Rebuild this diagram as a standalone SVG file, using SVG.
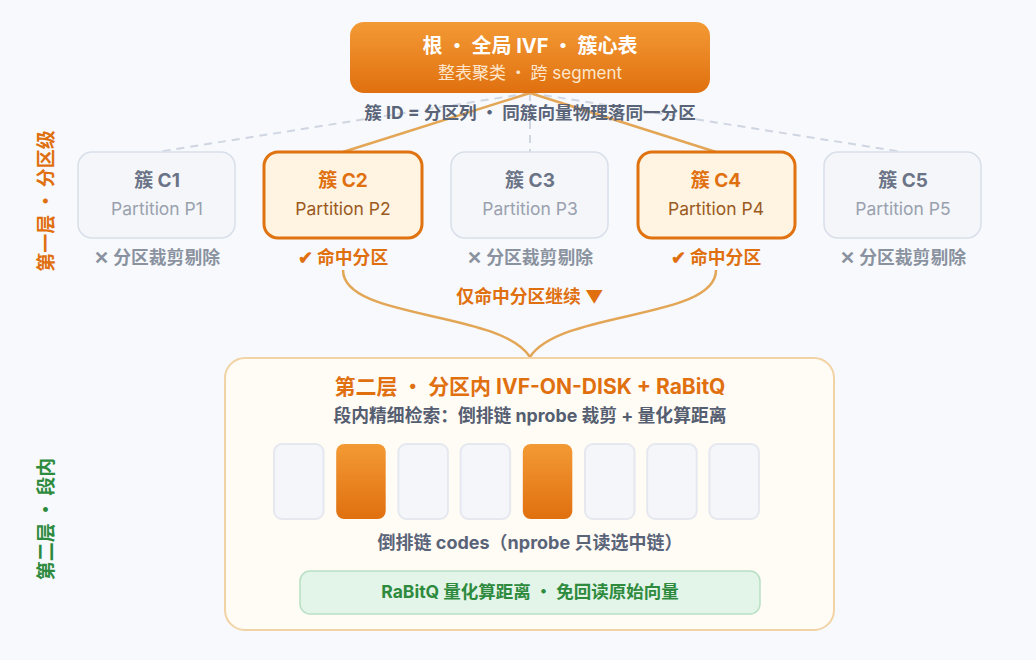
<svg xmlns="http://www.w3.org/2000/svg" width="1036" height="660" viewBox="0 0 1036 660">
<defs>
<linearGradient id="gOrange" x1="0" y1="0" x2="0" y2="1">
<stop offset="0" stop-color="#F39A35"/>
<stop offset="1" stop-color="#E0700F"/>
</linearGradient>
<style>
text{font-family:Inter,"Noto Sans CJK SC",sans-serif;text-anchor:middle}
.d{font-family:"Noto Sans CJK SC",sans-serif}
.b{font-weight:700}
.gbox{fill:#f4f6fa;stroke:#d9dfe9;stroke-width:1.5}
.obox{fill:#fff3e2;stroke:#e0720f;stroke-width:3}
.gt{fill:#6b7386;font-size:19px;font-weight:700}
.gs{fill:#9aa1ae;font-size:17.5px}
.ot{fill:#e0700f;font-size:19px;font-weight:700}
.os{fill:#9a5a1e;font-size:17.5px}
.gl{fill:#8a92a0;font-size:17.8px;font-weight:700}
.ol{fill:#e0700f;font-size:17.8px;font-weight:700}
.dash{stroke:#cfd6e2;stroke-width:2;stroke-dasharray:8 6;fill:none}
.sol{stroke:#e3a656;stroke-width:2.5;fill:none}
.chain{fill:#f4f6fa;stroke:#e5e8ef;stroke-width:2}
.chainOn{fill:url(#gOrange)}
</style>
</defs>
<rect width="1036" height="660" fill="#f7f9fc"/>

<g id="connectors">
<line class="dash" x1="530" y1="93" x2="157" y2="152"/>
<line class="dash" x1="530" y1="93" x2="530" y2="152"/>
<line class="dash" x1="530" y1="93" x2="903" y2="152"/>
<line class="sol" x1="530" y1="93" x2="343" y2="152"/>
<line class="sol" x1="530" y1="93" x2="716" y2="152"/>
<path class="sol" d="M343,270 C343,320 500,310 530,357"/>
<path class="sol" d="M716,270 C716,320 560,310 530,357"/>
</g>

<g id="root">
<rect x="350" y="22" width="360" height="71" rx="14" fill="url(#gOrange)"/>
<text x="530" y="53" class="b" font-size="20" fill="#ffffff">根<tspan class="d"> · </tspan>全局 IVF<tspan class="d"> · </tspan>簇心表</text>
<text x="530" y="79" font-size="17" fill="#fde6cc">整表聚类<tspan class="d"> · </tspan>跨 segment</text>
</g>

<g id="edge-label">
<text x="530" y="119" class="b" font-size="17.6" fill="#5a6478">簇 ID = 分区列<tspan class="d"> · </tspan>同簇向量物理落同一分区</text>
</g>

<g id="layer1-label">
<text transform="translate(53,201) rotate(-90)" class="b" font-size="19" fill="#e0700f">第一层<tspan class="d"> · </tspan>分区级</text>
</g>
<g id="layer2-label">
<text transform="translate(53,519) rotate(-90)" class="b" font-size="19" fill="#2e8b3e">第二层<tspan class="d"> · </tspan>段内</text>
</g>

<g id="c1">
<rect class="gbox" x="78" y="152" width="157" height="86" rx="14"/>
<text class="gt" x="157" y="187">簇 C1</text>
<text class="gs" x="157" y="215">Partition P1</text>
<text class="gl" x="157" y="264">✕ 分区裁剪剔除</text>
</g>
<g id="c2">
<rect class="obox" x="264" y="152" width="158" height="86" rx="14"/>
<text class="ot" x="343" y="187">簇 C2</text>
<text class="os" x="343" y="215">Partition P2</text>
<text class="ol" x="343" y="264">✔ 命中分区</text>
</g>
<g id="c3">
<rect class="gbox" x="451" y="152" width="157" height="86" rx="14"/>
<text class="gt" x="530" y="187">簇 C3</text>
<text class="gs" x="530" y="215">Partition P3</text>
<text class="gl" x="530" y="264">✕ 分区裁剪剔除</text>
</g>
<g id="c4">
<rect class="obox" x="638" y="152" width="157" height="86" rx="14"/>
<text class="ot" x="716" y="187">簇 C4</text>
<text class="os" x="716" y="215">Partition P4</text>
<text class="ol" x="716" y="264">✔ 命中分区</text>
</g>
<g id="c5">
<rect class="gbox" x="824" y="152" width="157" height="86" rx="14"/>
<text class="gt" x="903" y="187">簇 C5</text>
<text class="gs" x="903" y="215">Partition P5</text>
<text class="gl" x="903" y="264">✕ 分区裁剪剔除</text>
</g>

<g id="continue-label">
<text class="ol" x="530" y="303" font-size="18">仅命中分区继续 ▼</text>
</g>

<g id="layer2">
<rect x="225" y="358" width="609" height="272" rx="20" fill="#fffbf5" stroke="#f2d3a5" stroke-width="2"/>
<text x="530" y="394" class="b" font-size="21" fill="#e0700f">第二层<tspan class="d"> · </tspan>分区内 IVF-ON-DISK + RaBitQ</text>
<text x="530" y="422" class="b" font-size="17.8" fill="#555e70">段内精细检索：倒排链 nprobe 裁剪 + 量化算距离</text>
<g id="chains">
<rect class="chain" x="274" y="444" width="49.5" height="75" rx="8"/>
<rect class="chainOn" x="336.2" y="444" width="49.5" height="75" rx="8"/>
<rect class="chain" x="398.4" y="444" width="49.5" height="75" rx="8"/>
<rect class="chain" x="460.6" y="444" width="49.5" height="75" rx="8"/>
<rect class="chainOn" x="522.8" y="444" width="49.5" height="75" rx="8"/>
<rect class="chain" x="585" y="444" width="49.5" height="75" rx="8"/>
<rect class="chain" x="647.2" y="444" width="49.5" height="75" rx="8"/>
<rect class="chain" x="709.4" y="444" width="49.5" height="75" rx="8"/>
</g>
<text x="530" y="549" class="b" font-size="18" fill="#5a6478">倒排链 codes（nprobe 只读选中链）</text>
</g>

<g id="rabitq">
<rect x="300" y="571" width="460" height="43" rx="10" fill="#e3f4e8" stroke="#b8e0c4" stroke-width="1.5"/>
<text x="530" y="598" class="b" font-size="17.5" fill="#2e8b3e">RaBitQ 量化算距离<tspan class="d"> · </tspan>免回读原始向量</text>
</g>
</svg>
